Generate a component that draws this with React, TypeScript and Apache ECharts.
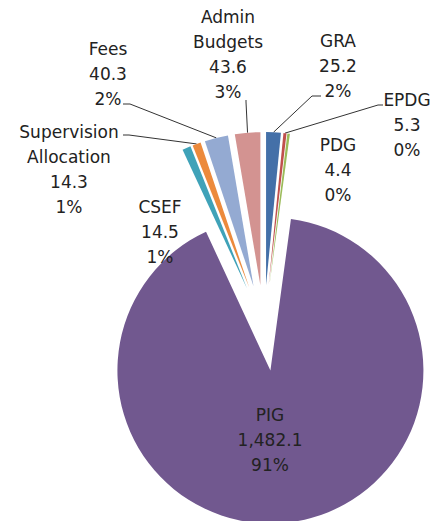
import React, { useEffect, useRef } from "react";
import * as echarts from "echarts";

const categories = ["GRA", "EPDG", "PDG", "PIG", "CSEF", "Supervision Allocation", "Fees", "Admin Budgets"];
const values = [25.2, 5.3, 4.4, 1482.1, 14.5, 14.3, 40.3, 43.6];
const colors = ["#4470A8", "#C0504D", "#9BBB59", "#71588F", "#3FA2B8", "#EC8A3C", "#94AAD2", "#D39391"];

// Label layout (positions of the text blocks and leader-line ends)
const labelPlacement: Record<string, { x: number; y: number; line?: number[][] }> = {
  GRA: { x: 338, y: 66, line: [[312, 96], [321, 96]] },
  EPDG: { x: 407, y: 125, line: [[378, 105], [383, 105]] },
  PDG: { x: 338, y: 170 },
  PIG: { x: 270, y: 440 },
  CSEF: { x: 160, y: 232 },
  "Supervision Allocation": { x: 69, y: 169, line: [[129, 135], [123, 135]] },
  Fees: { x: 108, y: 74, line: [[130, 104], [123, 104]] },
  "Admin Budgets": { x: 228, y: 54, line: [[246, 102], [246, 100]] },
};

const CENTER = [264, 328];
const RADIUS = 153;
const EXPLODE = 43;

export default function App() {
  const ref = useRef<HTMLDivElement>(null);
  useEffect(() => {
    if (!ref.current) return;
    const chart = echarts.init(ref.current, null, { renderer: "svg" });
    const total = values.reduce((a, b) => a + b, 0);
    let cum = 0;
    const fmtVal = (v: number) =>
      v.toLocaleString("en-US", { minimumFractionDigits: 1, maximumFractionDigits: 1 });

    const series = values.map((v, i) => {
      const mid = ((cum + v / 2) / total) * 2 * Math.PI;
      cum += v;
      const cx = CENTER[0] + EXPLODE * Math.sin(mid);
      const cy = CENTER[1] - EXPLODE * Math.cos(mid);
      return {
        type: "pie",
        center: [cx, cy],
        radius: [0, RADIUS],
        startAngle: 90,
        clockwise: true,
        silent: true,
        avoidLabelOverlap: false,
        emphasis: { disabled: true },
        z: i === 3 ? 1 : 2,
        data: values.map((vv, j) => ({
          name: categories[j],
          value: vv,
          itemStyle: { color: j === i ? colors[j] : "rgba(0,0,0,0)" },
          label: { show: j === i },
          labelLine: { show: j === i && !!labelPlacement[categories[j]].line },
        })),
        label: {
          position: "outside",
          fontFamily: "DejaVu Sans",
          fontSize: 17,
          lineHeight: 25,
          color: "#222",
          align: "center",
          formatter: (p: any) =>
            `${String(p.name).replace(" ", "\n")}\n${fmtVal(p.value)}\n${Math.round((p.value / total) * 100)}%`,
        },
        labelLine: {
          show: true,
          length: 10,
          length2: 10,
          lineStyle: { color: "#333", width: 1 },
        },
        labelLayout: (params: any) => {
          const p = labelPlacement[categories[params.dataIndex]];
          const res: any = { x: p.x, y: p.y, align: "center", verticalAlign: "middle" };
          if (p.line && params.labelLinePoints) {
            res.labelLinePoints = [params.labelLinePoints[0], p.line[0], p.line[1]];
          }
          return res;
        },
      };
    });

    chart.setOption({
      animation: false,
      backgroundColor: "#ffffff",
      series,
    });
    return () => chart.dispose();
  }, []);
  return (
    <div
      ref={ref}
      style={{ position: "fixed", left: 0, top: 0, width: 431, height: 521 }}
    />
  );
}
